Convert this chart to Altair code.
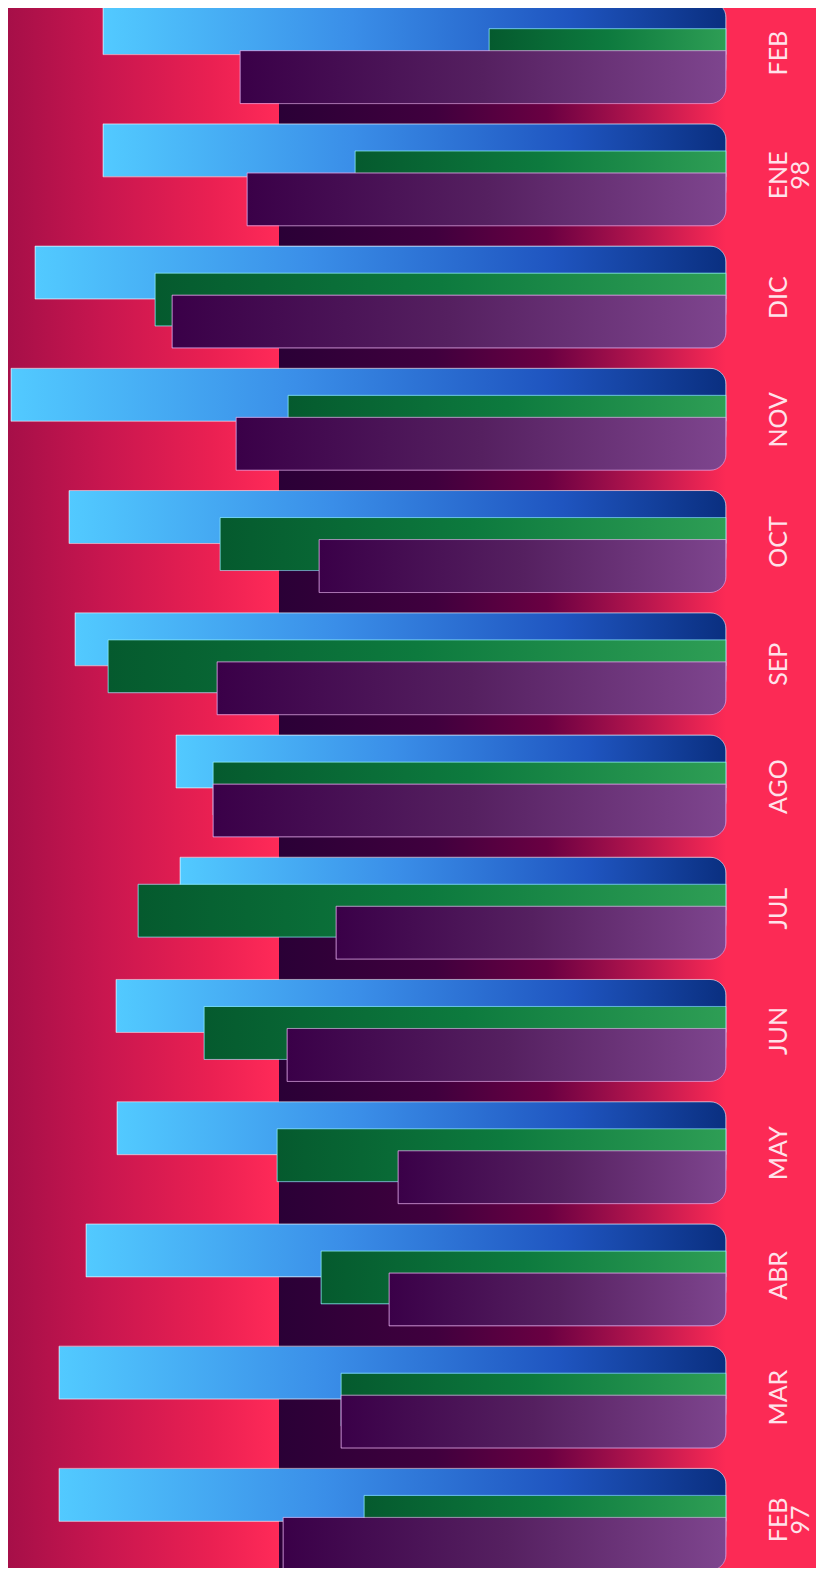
import altair as alt
import pandas as pd

# Months, chronological (FEB 97 ... FEB 98)
keys = ["FEB 97", "MAR", "ABR", "MAY", "JUN", "JUL", "AGO", "SEP", "OCT", "NOV", "DIC", "ENE 98", "FEB 98"]
labels = ["FEB\n97", "MAR", "ABR", "MAY", "JUN", "JUL", "AGO", "SEP", "OCT", "NOV", "DIC", "ENE\n98", "FEB"]

# Series values (bar lengths)
serie_azul = [667, 667, 640, 609, 610, 546, 550, 651, 657, 715, 691, 623, 623]
serie_verde = [362, 385, 405, 449, 522, 588, 513, 618, 506, 438, 571, 371, 237]
serie_morada = [443, 385, 337, 328, 439, 390, 513, 509, 407, 490, 554, 479, 486]

df = pd.DataFrame({
    "key": keys,
    "label": labels,
    "azul": serie_azul,
    "verde": serie_verde,
    "morada": serie_morada,
})

W, H = 808, 1560
BASE = 718

order_top_down = list(reversed(keys))
yenc = alt.Y("key:N", sort=order_top_down,
             scale=alt.Scale(range=[-16, 1573], paddingInner=0, paddingOuter=0),
             axis=None)
xscale = alt.Scale(domain=[0, BASE], range=[BASE, 0], nice=False, zero=True)


def grad(stops):
    return alt.Gradient(gradient="linear", x1=0, x2=1, y1=0, y2=0,
                        stops=[alt.GradientStop(color=c, offset=o) for o, c in stops])


one = pd.DataFrame({"z": [0]})

bg_left = alt.Chart(one).mark_rect(
    fill=grad([(0, "#a60f48"), (0.35, "#c8164f"), (0.75, "#ea2052"), (1, "#ff2a58")])
).encode(x=alt.value(0), x2=alt.value(271), y=alt.value(0), y2=alt.value(H))

bg_band = alt.Chart(one).mark_rect(
    fill=grad([(0, "#2a0036"), (0.35, "#40003e"), (0.6, "#6a0042"), (0.82, "#b8164e"), (1, "#fc2a55")])
).encode(x=alt.value(271), x2=alt.value(BASE), y=alt.value(0), y2=alt.value(H))

blue = alt.Chart(df).mark_bar(
    height=53, yOffset=-25,
    fill=grad([(0, "#52caff"), (0.4, "#3a8ee8"), (0.75, "#1f55c0"), (1, "#0a2f80")]),
    stroke="#e8f4ff", strokeWidth=0.8, strokeOpacity=0.7,
    cornerRadiusTopRight=16,
).encode(x=alt.X("azul:Q", scale=xscale, axis=None), y=yenc)

green = alt.Chart(df).mark_bar(
    height=53, yOffset=2,
    fill=grad([(0, "#055a2e"), (0.5, "#0d7a3e"), (1, "#2e9e55")]),
    stroke="#8ff0ff", strokeWidth=0.8, strokeOpacity=0.7,
    cornerRadiusBottomRight=14,
).encode(x=alt.X("verde:Q", scale=xscale, axis=None), y=yenc)

purple = alt.Chart(df).mark_bar(
    height=53, yOffset=24,
    fill=grad([(0, "#3a0048"), (0.5, "#552060"), (1, "#7e458e")]),
    stroke="#e0a8e8", strokeWidth=0.8, strokeOpacity=0.8,
    cornerRadiusBottomRight=16,
).encode(x=alt.X("morada:Q", scale=xscale, axis=None), y=yenc)

text = alt.Chart(df).mark_text(
    angle=270, align="center", baseline="alphabetic", lineBreak="\n",
    font="Lato", fontSize=25, fontWeight="normal", lineHeight=22, color="#ffe2ea",
).encode(y=yenc, x=alt.value(779), text="label:N")

chart = alt.layer(bg_left, bg_band, blue, green, purple, text).properties(
    width=W, height=H, padding=0, autosize="none", background="#fc2a55"
).configure_view(stroke=None)

chart.save("out.html", embed_options={"renderer": "svg", "actions": False})
